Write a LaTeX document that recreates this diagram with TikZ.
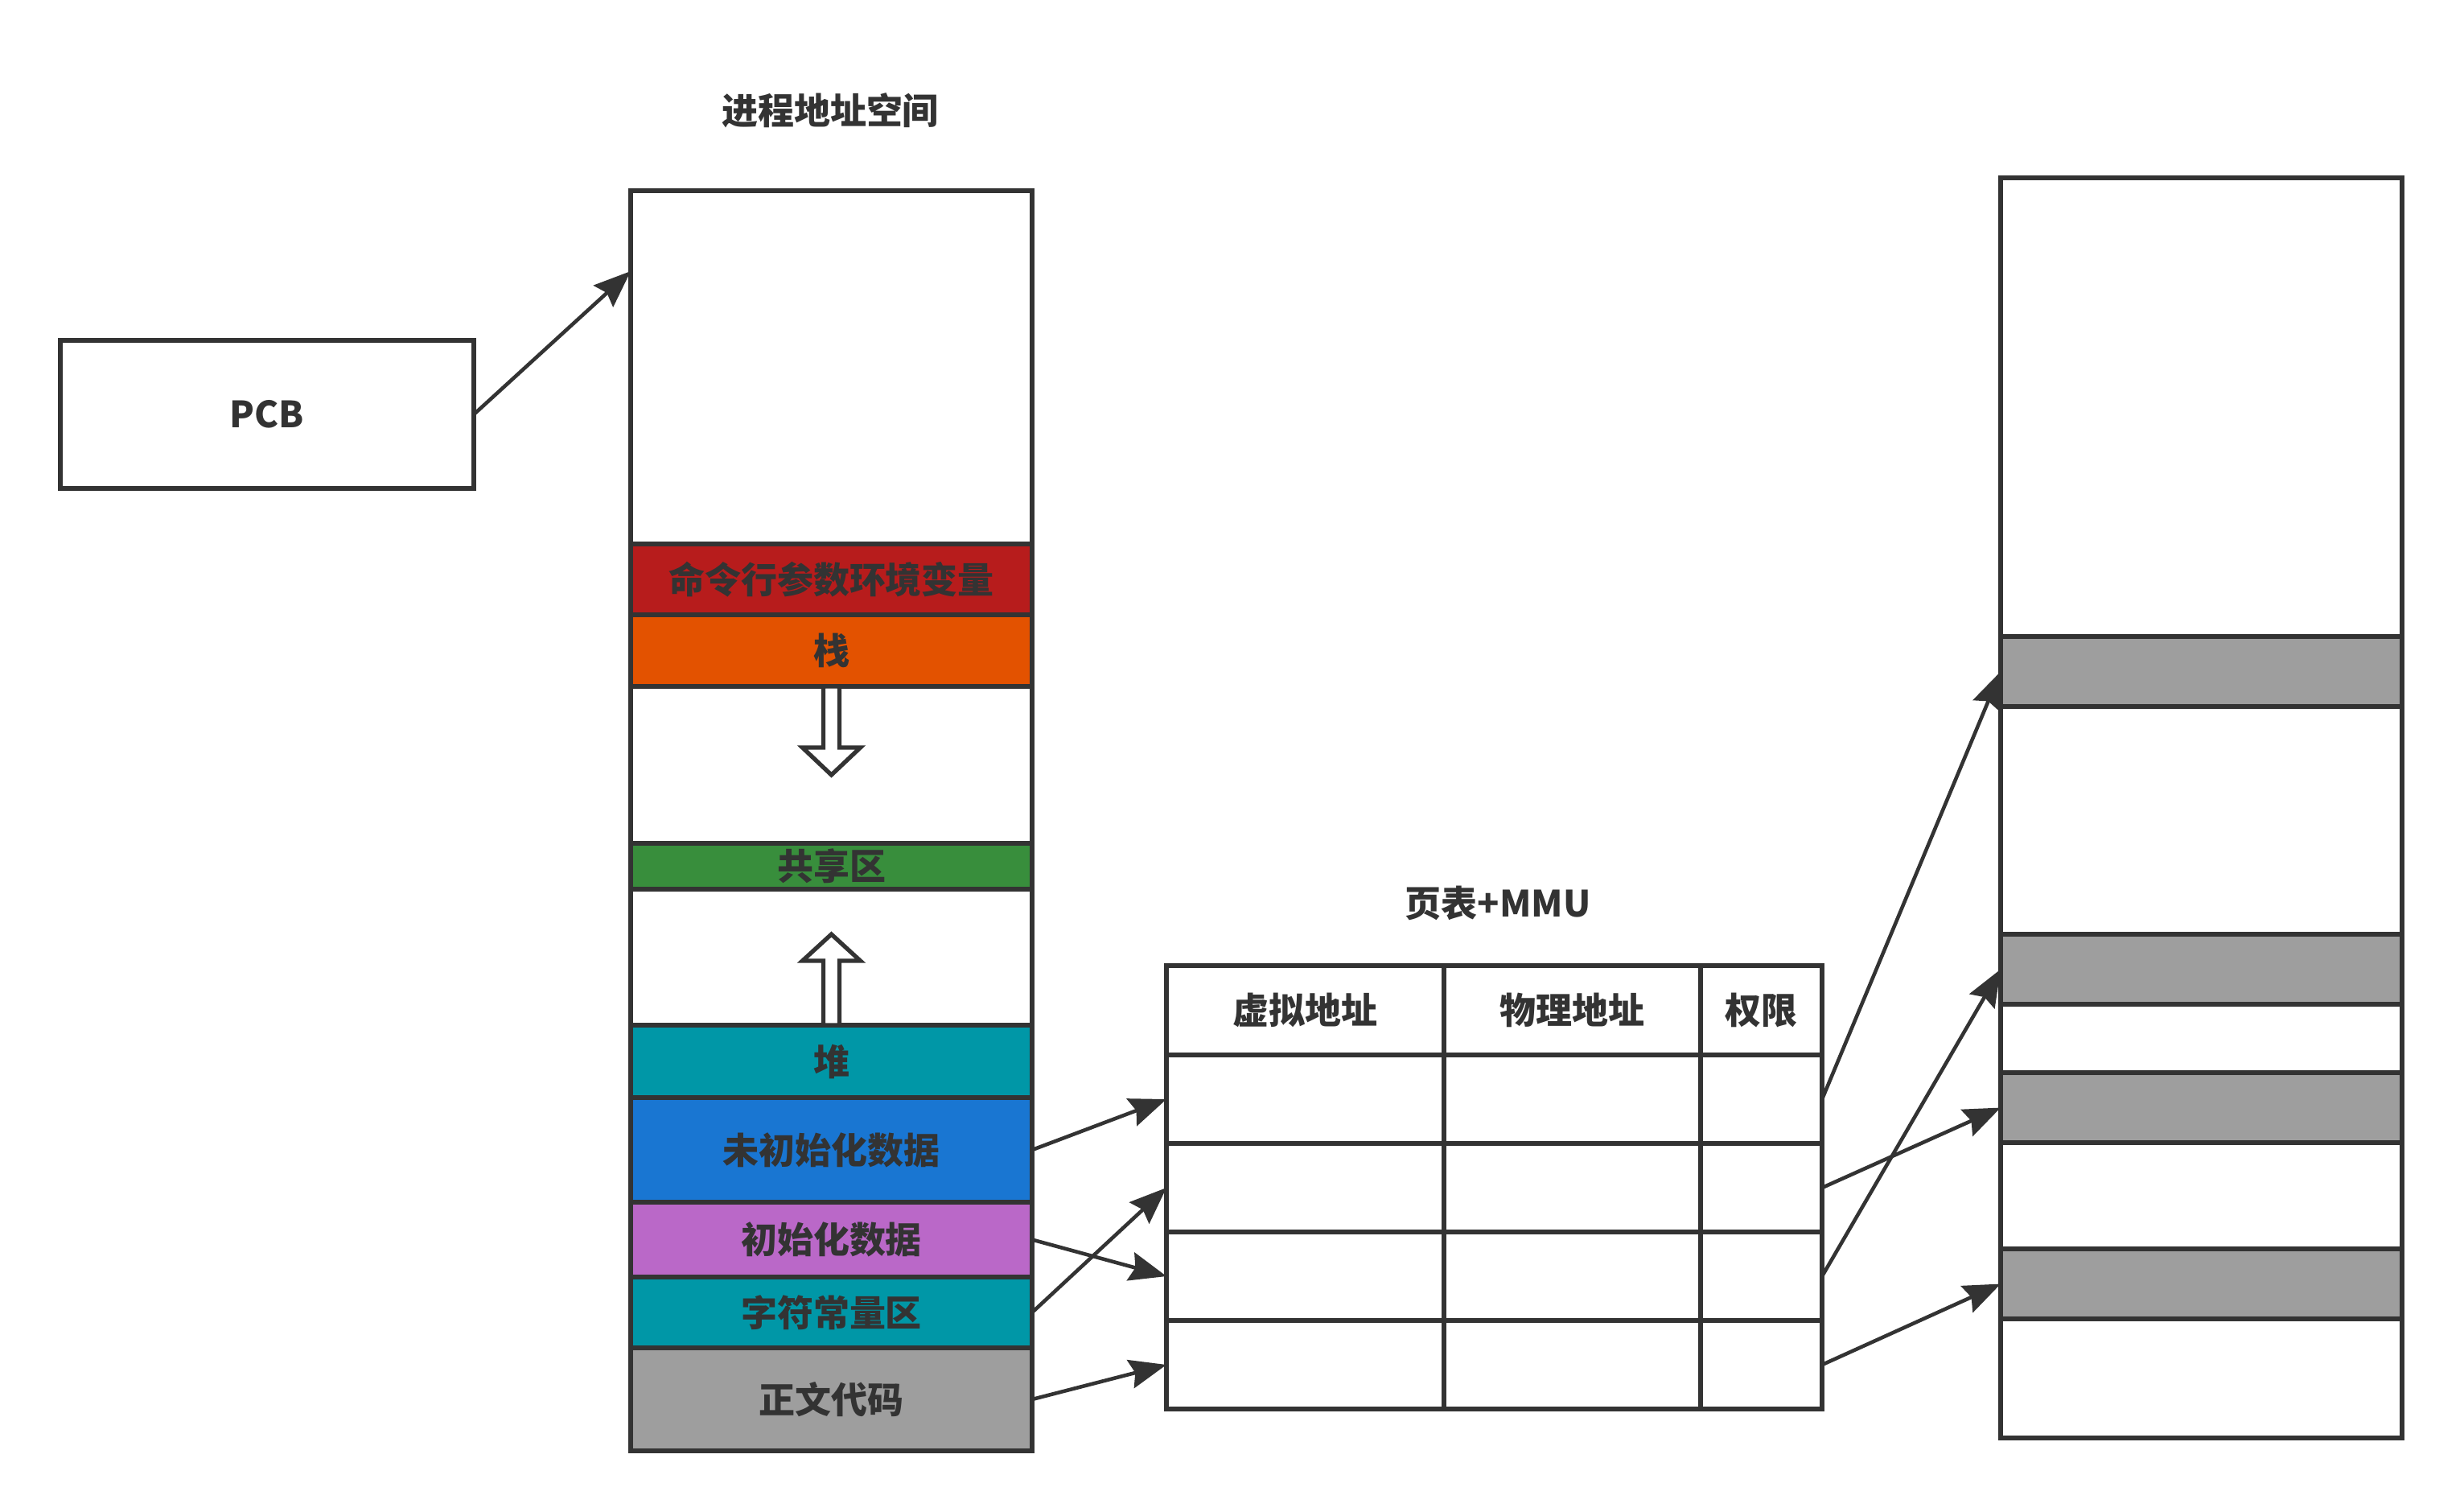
\documentclass[tikz,border=0pt]{standalone}
\usepackage{fontspec}
\setmainfont{Noto Sans CJK SC}
\usetikzlibrary{arrows.meta,positioning}
\definecolor{ln}{HTML}{333333}
\definecolor{cred}{HTML}{B71C1C}
\definecolor{corange}{HTML}{E35200}
\definecolor{cgreen}{HTML}{388E3C}
\definecolor{cteal}{HTML}{0097A7}
\definecolor{cblue}{HTML}{1976D2}
\definecolor{cpurple}{HTML}{BA68C8}
\definecolor{cgray}{HTML}{9E9E9E}

\begin{document}
\begin{tikzpicture}[
  font=\fontsize{12.8}{15}\selectfont\bfseries,
  text=ln,
  seg/.style={draw=ln, line width=1.5pt, minimum width=4.99cm, inner sep=0pt, outer sep=0pt},
  cell/.style={draw=ln, line width=1.5pt, inner sep=0pt, outer sep=0pt, minimum height=1.1cm},
  arr/.style={-{Stealth[length=4.6mm,width=3.6mm,inset=0.6mm]}, draw=ln, line width=1.3pt},
  hollow/.style={draw=ln, line width=1.5pt, fill=white}
]
\useasboundingbox (0,0) rectangle (30.63,-18.78);

% PCB and titles
\node[draw=ln, line width=1.5pt, minimum width=5.14cm, minimum height=1.84cm, outer sep=0pt] (pcb) at (3.32,-5.15) {PCB};
\node (t1) at (10.32,-1.37) {进程地址空间};
\node (t2) at (18.62,-11.22) {页表+MMU};

% process address space
\node[seg, minimum height=4.39cm, anchor=north west] (top) at (7.84,-2.37) {};
\node[seg, minimum height=0.88cm, fill=cred, below=0pt of top] (cmd) {命令行参数环境变量};
\node[seg, minimum height=0.89cm, fill=corange, below=0pt of cmd] (stk) {栈};
\node[seg, minimum height=1.95cm, below=0pt of stk] (gap1) {};
\node[seg, minimum height=0.57cm, fill=cgreen, below=0pt of gap1] (shm) {共享区};
\node[seg, minimum height=1.69cm, below=0pt of shm] (gap2) {};
\node[seg, minimum height=0.90cm, fill=cteal, below=0pt of gap2] (heap) {堆};
\node[seg, minimum height=1.30cm, fill=cblue, below=0pt of heap] (bss) {未初始化数据};
\node[seg, minimum height=0.93cm, fill=cpurple, below=0pt of bss] (data) {初始化数据};
\node[seg, minimum height=0.88cm, fill=cteal, below=0pt of data] (rodata) {字符常量区};
\node[seg, minimum height=1.28cm, fill=cgray, below=0pt of rodata] (code) {正文代码};

% stack grows down, heap grows up
\draw[hollow] ([xshift=-1mm]stk.south) -- ++(0,-0.76) -- ++(-0.26,0) -- ++(0.36,-0.34)
  -- ++(0.36,0.34) -- ++(-0.26,0) -- ++(0,0.76) -- cycle;
\draw[hollow] ([xshift=-1mm]heap.north) -- ++(0,0.80) -- ++(-0.26,0) -- ++(0.36,0.33)
  -- ++(0.36,-0.33) -- ++(-0.26,0) -- ++(0,-0.80) -- cycle;

% page table
\node[cell, minimum width=3.45cm, minimum height=1.11cm, anchor=north west] (h1) at (14.50,-12.00) {虚拟地址};
\node[cell, minimum width=3.19cm, minimum height=1.11cm, right=0pt of h1] (h2) {物理地址};
\node[cell, minimum width=1.51cm, minimum height=1.11cm, right=0pt of h2] (h3) {权限};
\node[cell, minimum width=3.45cm, below=0pt of h1] (v1) {};
\node[cell, minimum width=3.19cm, below=0pt of h2] (f1) {};
\node[cell, minimum width=1.51cm, below=0pt of h3] (q1) {};
\node[cell, minimum width=3.45cm, below=0pt of v1] (v2) {};
\node[cell, minimum width=3.19cm, below=0pt of f1] (f2) {};
\node[cell, minimum width=1.51cm, below=0pt of q1] (q2) {};
\node[cell, minimum width=3.45cm, below=0pt of v2] (v3) {};
\node[cell, minimum width=3.19cm, below=0pt of f2] (f3) {};
\node[cell, minimum width=1.51cm, below=0pt of q2] (q3) {};
\node[cell, minimum width=3.45cm, below=0pt of v3] (v4) {};
\node[cell, minimum width=3.19cm, below=0pt of f3] (f4) {};
\node[cell, minimum width=1.51cm, below=0pt of q3] (q4) {};

% physical memory
\node[seg, minimum height=5.70cm, anchor=north west] (m0) at (24.87,-2.21) {};
\node[seg, minimum height=0.87cm, fill=cgray, below=0pt of m0] (p1) {};
\node[seg, minimum height=2.83cm, below=0pt of p1] (m1) {};
\node[seg, minimum height=0.87cm, fill=cgray, below=0pt of m1] (p2) {};
\node[seg, minimum height=0.85cm, below=0pt of p2] (m2) {};
\node[seg, minimum height=0.87cm, fill=cgray, below=0pt of m2] (p3) {};
\node[seg, minimum height=1.32cm, below=0pt of p3] (m3) {};
\node[seg, minimum height=0.87cm, fill=cgray, below=0pt of m3] (p4) {};
\node[seg, minimum height=1.48cm, below=0pt of p4] (m4) {};

% connectors
\draw[arr] (pcb.east) -- ([yshift=-1cm]top.north west);
\draw[arr] (bss.east) -- (v1.west);
\draw[arr] (data.east) -- (v3.west);
\draw[arr] (rodata.east) -- (v2.west);
\draw[arr] (code.east) -- (v4.west);
\draw[arr] (q1.east) -- (p1.west);
\draw[arr] (q2.east) -- (p3.west);
\draw[arr] (q3.east) -- (p2.west);
\draw[arr] (q4.east) -- (p4.west);
\end{tikzpicture}
\end{document}
